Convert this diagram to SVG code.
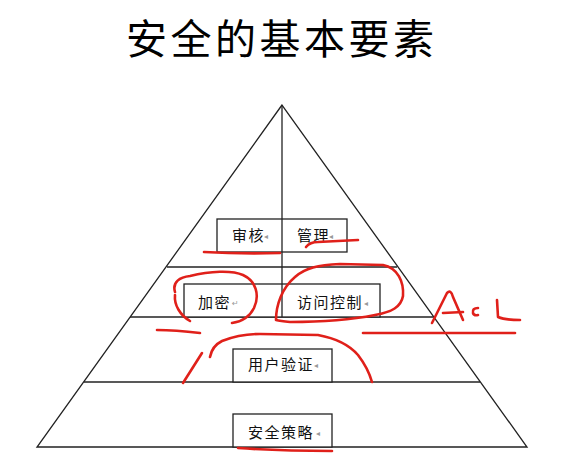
<svg xmlns="http://www.w3.org/2000/svg" width="569" height="473" viewBox="0 0 569 473">
<style>
.ln{stroke:#222;stroke-width:1.3;fill:none}
.bx{stroke:#222;stroke-width:1.3;fill:#fff}
.lb{font-family:"Noto Sans CJK SC","Noto Sans",sans-serif;font-size:15px;fill:#111;letter-spacing:1.5px}
.pm{font-family:"DejaVu Sans",sans-serif;font-size:8px;fill:#999}
.rd{stroke:#e0201a;stroke-width:2.6;fill:none;stroke-linecap:round;stroke-linejoin:round}
</style>
<rect width="569" height="473" fill="#fff"/>
<text x="126" y="54" font-family="Noto Sans CJK SC,sans-serif" font-size="41" fill="#000" textLength="308" lengthAdjust="spacing">安全的基本要素</text>
<g id="pyramid">
<path class="ln" d="M282,105 L37,447 L527,447 Z"/>
<line class="ln" x1="282" y1="105" x2="282" y2="317"/>
<line class="ln" x1="167" y1="267" x2="397" y2="267"/>
<line class="ln" x1="130" y1="317" x2="434" y2="317"/>
<line class="ln" x1="84" y1="382" x2="480" y2="382"/>
</g>
<g id="node-audit-manage">
<rect class="bx" x="217" y="219" width="130" height="33"/>
<line class="ln" x1="282" y1="219" x2="282" y2="252"/>
<text class="lb" x="232" y="241">审核</text><text class="pm" x="264" y="239">◂</text>
<text class="lb" x="297" y="241">管理</text><text class="pm" x="329" y="239">◂</text>
</g>
<g id="node-encrypt-access">
<rect class="bx" x="184" y="284" width="196" height="33"/>
<line class="ln" x1="282" y1="284" x2="282" y2="317"/>
<text class="lb" x="198" y="308">加密</text><text class="pm" x="232" y="306" font-size="10">↵</text>
<text class="lb" x="297" y="308">访问控制</text><text class="pm" x="364" y="306">◂</text>
</g>
<g id="node-auth">
<rect class="bx" x="233" y="349" width="99" height="33"/>
<text class="lb" x="248" y="370">用户验证</text><text class="pm" x="314" y="368">◂</text>
</g>
<g id="node-policy">
<rect class="bx" x="233" y="414" width="99" height="33"/>
<text class="lb" x="248" y="438">安全策略</text><text class="pm" x="316" y="436">◂</text>
</g>
<g id="connectors">
<path class="rd" d="M204,252 Q240,254 280,253"/>
<path class="rd" d="M306,247 Q310,242 318,242 L358,240"/>
<path class="rd" d="M175,292 C172,282 180,277 190,276 C210,271 232,270 243,275 C256,281 260,295 254,308 C249,318 240,322 232,323"/>
<path class="rd" d="M175,295 C174,305 180,315 190,321"/>
<path class="rd" d="M157,330 Q175,330 200,333"/>
<path class="rd" d="M276,320 C276,305 282,288 295,277 C305,268 318,265 340,264 L383,265 C398,268 404,282 403,296 C401,307 392,312 375,315 C350,320 320,322 290,322 Q280,321 276,320"/>
<path class="rd" d="M432,323 L447,293 Q451,289 453,297 L463,320"/>
<path class="rd" d="M443,313 L463,312"/>
<path class="rd" d="M478,308 Q472,308 473,313 Q474,316 478,315"/>
<path class="rd" d="M497,300 L498,317 Q505,320 520,320"/>
<path class="rd" d="M363,333 L515,333"/>
<path class="rd" d="M210,357 Q212,346 222,341 Q240,334 260,334 L318,335 Q345,340 358,355 Q368,368 372,382"/>
<path class="rd" d="M202,353 L183,383"/>
<path class="rd" d="M238,448 Q280,451 332,451"/>
</g>
</svg>
